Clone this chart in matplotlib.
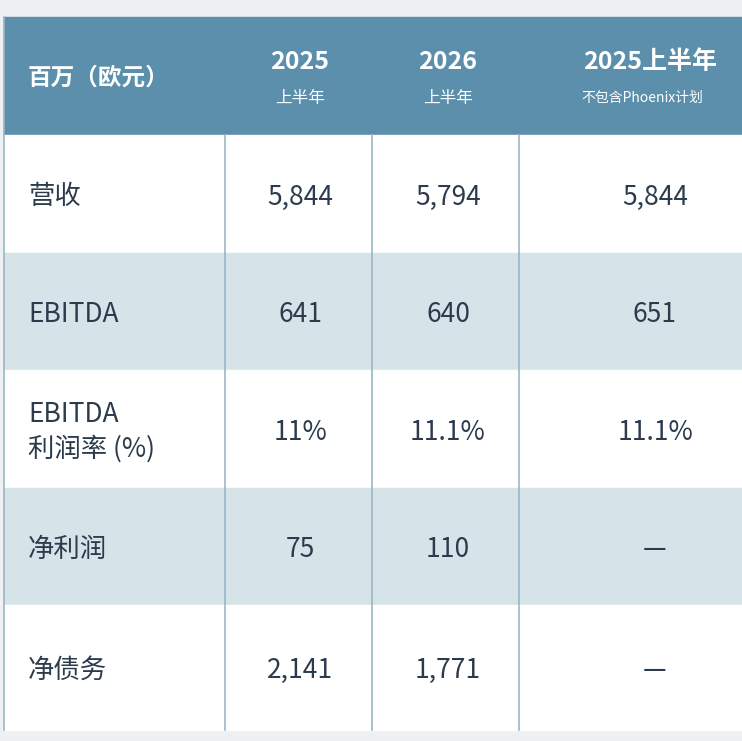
import matplotlib
matplotlib.use("Agg")
import matplotlib.pyplot as plt
from matplotlib.patches import Rectangle

plt.rcParams['font.family'] = ['Noto Sans CJK SC', 'DejaVu Sans']

header_title = "百万（欧元）"
col_titles = ["2025", "2026", "2025上半年"]
col_subtitles = ["上半年", "上半年", "不包含Phoenix计划"]
row_labels = ["营收", "EBITDA", "EBITDA\n利润率 (%)", "净利润", "净债务"]
col_2025 = ["5,844", "641", "11%", "75", "2,141"]
col_2026 = ["5,794", "640", "11.1%", "110", "1,771"]
col_excl = ["5,844", "651", "11.1%", "—", "—"]

W, H = 742, 741
fig = plt.figure(figsize=(W/100, H/100), dpi=100)
ax = fig.add_axes([0, 0, 1, 1])
ax.set_xlim(0, W); ax.set_ylim(H, 0); ax.axis('off')
fig.patch.set_facecolor('#eef0f1')

hdr = '#5b8fab'; shade = '#d6e4ea'; txt = '#2c3b4c'; line = '#9bb6c6'
x0, x1 = 4, 745
cols = [x0, 225, 372, 519, x1]
ys = [17, 135, 253, 370, 488, 605, 730]

ax.add_patch(Rectangle((x0, ys[0]), x1-x0, ys[1]-ys[0], color=hdr, zorder=1))
for i in range(5):
    c = shade if i % 2 == 1 else 'white'
    ax.add_patch(Rectangle((x0, ys[i+1]), x1-x0, ys[i+2]-ys[i+1], color=c, zorder=1))
for x in cols[1:4]:
    ax.plot([x, x], [ys[1], ys[-1]], color=line, lw=1.2, zorder=2)
ax.plot([x0, x0], [ys[0], ys[-1]], color=line, lw=1.2, zorder=2)

ax.text(28, 78, header_title, color='white', fontsize=17, fontweight='bold', va='center', ha='left')
centers = [300, 448, 650]
for cx, t, s, fs in zip(centers, col_titles, col_subtitles, [12, 12, 10]):
    ax.text(cx, 62, t, color='white', fontsize=18, fontweight='bold', ha='center', va='center')
    ax.text(cx - (8 if fs == 10 else 0), 98, s, color='white', fontsize=fs, ha='center', va='center')

vcent = [300, 448, 655]
for i, lab in enumerate(row_labels):
    yc = (ys[i+1] + ys[i+2]) / 2 + 3
    ax.text(28, yc, lab, color=txt, fontsize=19, ha='left', va='center', linespacing=1.3)
    for cx, v in zip(vcent, [col_2025[i], col_2026[i], col_excl[i]]):
        ax.text(cx, yc, v, color=txt, fontsize=19, ha='center', va='center')

fig.savefig('out.png', dpi=100, facecolor=fig.get_facecolor())
